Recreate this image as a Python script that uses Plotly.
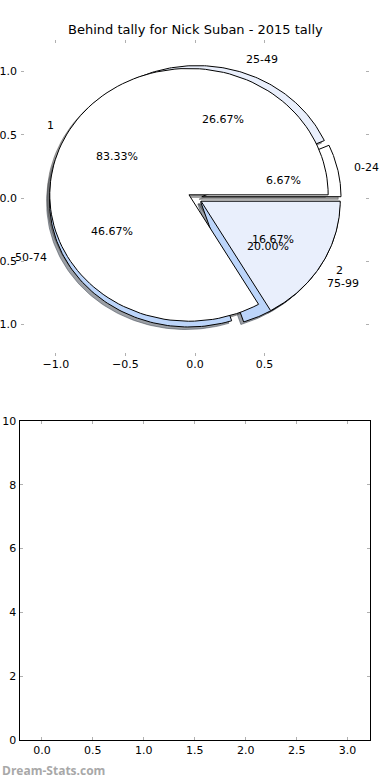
import numpy as np
import plotly.graph_objects as go

# ---- data ----
title = "Behind tally for Nick Suban - 2015 tally"
pie1_labels = ["1", "2"]
pie1_values = [5, 1]
pie1_colors = ["#ffffff", "#e9effc"]

pie2_labels = ["0-24", "25-49", "50-74", "75-99"]
pie2_values = [1, 4, 7, 3]
pie2_colors = ["#ffffff", "#e9effc", "#bcd5fa", "#bcd5fa"]

explode = 0.05
shadow_off = (-0.02, -0.02)

W, H = 390, 780
FONT = "DejaVu Sans"


def wedges(values):
    v = np.asarray(values, dtype=float)
    frac = v / v.sum()
    t = np.concatenate([[0.0], np.cumsum(frac)]) * 360.0
    out = []
    for i in range(len(v)):
        t1, t2 = t[i], t[i + 1]
        mid = np.deg2rad((t1 + t2) / 2)
        cx, cy = explode * np.cos(mid), explode * np.sin(mid)
        ang = np.deg2rad(np.linspace(t1, t2, 120))
        xs = np.concatenate([[cx], cx + np.cos(ang), [cx]])
        ys = np.concatenate([[cy], cy + np.sin(ang), [cy]])
        out.append(dict(xs=xs, ys=ys, cx=cx, cy=cy, mid=mid, frac=frac[i]))
    return out


def shade(hexcol):
    h = hexcol.lstrip("#")
    r, g, b = (int(h[k:k + 2], 16) for k in (0, 2, 4))
    return f"rgba({int(r*0.3)},{int(g*0.3)},{int(b*0.3)},0.5)"


fig = go.Figure()
w1 = wedges(pie1_values)
w2 = wedges(pie2_values)

# shadows first (lower zorder)
for ws, cols in ((w2, pie2_colors), (w1, pie1_colors)):
    for w, c in zip(ws, cols):
        fig.add_trace(go.Scatter(x=w["xs"] + shadow_off[0], y=w["ys"] + shadow_off[1],
                                 mode="lines", fill="toself", fillcolor=shade(c),
                                 line=dict(color=shade(c), width=1),
                                 hoverinfo="skip", showlegend=False,
                                 xaxis="x", yaxis="y"))
# wedges
for ws, cols in ((w2, pie2_colors), (w1, pie1_colors)):
    for w, c in zip(ws, cols):
        fig.add_trace(go.Scatter(x=w["xs"], y=w["ys"], mode="lines", fill="toself",
                                 fillcolor=c, line=dict(color="black", width=1),
                                 hoverinfo="skip", showlegend=False,
                                 xaxis="x", yaxis="y"))

annotations = []
for ws, labs in ((w2, pie2_labels), (w1, pie1_labels)):
    for w, lab in zip(ws, labs):
        lx = w["cx"] + 1.1 * np.cos(w["mid"])
        ly = w["cy"] + 1.1 * np.sin(w["mid"])
        annotations.append(dict(x=lx, y=ly, xref="x", yref="y", text=lab, showarrow=False,
                                xanchor="left" if lx > 0 else "right", yanchor="middle",
                                font=dict(family=FONT, size=11, color="black")))
        px_ = w["cx"] + 0.6 * np.cos(w["mid"])
        py_ = w["cy"] + 0.6 * np.sin(w["mid"])
        annotations.append(dict(x=px_, y=py_, xref="x", yref="y",
                                text=f"{w['frac']*100:.2f}%", showarrow=False,
                                xanchor="center", yanchor="middle",
                                font=dict(family=FONT, size=11, color="black")))

# empty second axes
fig.add_trace(go.Scatter(x=[], y=[], xaxis="x2", yaxis="y2", showlegend=False))

annotations.append(dict(x=195 / W, y=1 - 30 / H, xref="paper", yref="paper", text=title,
                        showarrow=False, xanchor="center", yanchor="middle",
                        font=dict(family=FONT, size=13, color="black")))
annotations.append(dict(x=0, y=1 - 770 / H, xref="paper", yref="paper", text="<b>Dream-Stats.com</b>",
                        showarrow=False, xanchor="left", yanchor="middle",
                        font=dict(family="Open Sans", size=12, color="#a8a8a8")))

tickfont = dict(family=FONT, size=11, color="black")
fig.update_layout(
    width=W, height=H, margin=dict(l=0, r=0, t=0, b=0, autoexpand=False),
    paper_bgcolor="white", plot_bgcolor="white",
    annotations=annotations,
    xaxis=dict(domain=[21 / W, 369 / W], range=[-1.25, 1.25], showgrid=False, zeroline=False,
               showline=False, ticks="inside", ticklen=3, tickcolor="#b0b0b0", mirror="ticks",
               tickvals=[-1.0, -0.5, 0.0, 0.5], ticktext=["\u22121.0", "\u22120.5", "0.0", "0.5"],
               tickfont=tickfont, anchor="y", fixedrange=True, automargin=False),
    yaxis=dict(domain=[1 - 356 / H, 1 - 40 / H], range=[-1.25, 1.25], showgrid=False, zeroline=False,
               showline=False, ticks="inside", ticklen=3, tickcolor="#b0b0b0", mirror="ticks",
               tickvals=[-1.0, -0.5, 0.0, 0.5, 1.0],
               ticktext=["\u22121.0", "\u22120.5", "0.0", "0.5", "1.0"], ticklabelstandoff=3,
               tickfont=tickfont, anchor="x", fixedrange=True, automargin=False),
    xaxis2=dict(domain=[19.5 / W, 370 / W], range=[-0.22, 3.22], showgrid=False, zeroline=False,
                showline=True, linecolor="black", linewidth=1, mirror="ticks",
                ticks="inside", ticklen=3, tickcolor="#b0b0b0",
                tickvals=[0, 0.5, 1.0, 1.5, 2.0, 2.5, 3.0],
                ticktext=["0.0", "0.5", "1.0", "1.5", "2.0", "2.5", "3.0"],
                tickfont=tickfont, anchor="y2", fixedrange=True, automargin=False),
    yaxis2=dict(domain=[1 - 740 / H, 1 - 421 / H], range=[0, 10], showgrid=False, zeroline=False,
                showline=True, linecolor="black", linewidth=1, mirror="ticks",
                ticks="inside", ticklen=3, tickcolor="#b0b0b0",
                tickvals=[0, 2, 4, 6, 8, 10], tickfont=tickfont, anchor="x2", fixedrange=True,
                automargin=False),
)

fig.write_html("out.html", config={"displayModeBar": False},
               post_script="document.body.style.margin='0';")
